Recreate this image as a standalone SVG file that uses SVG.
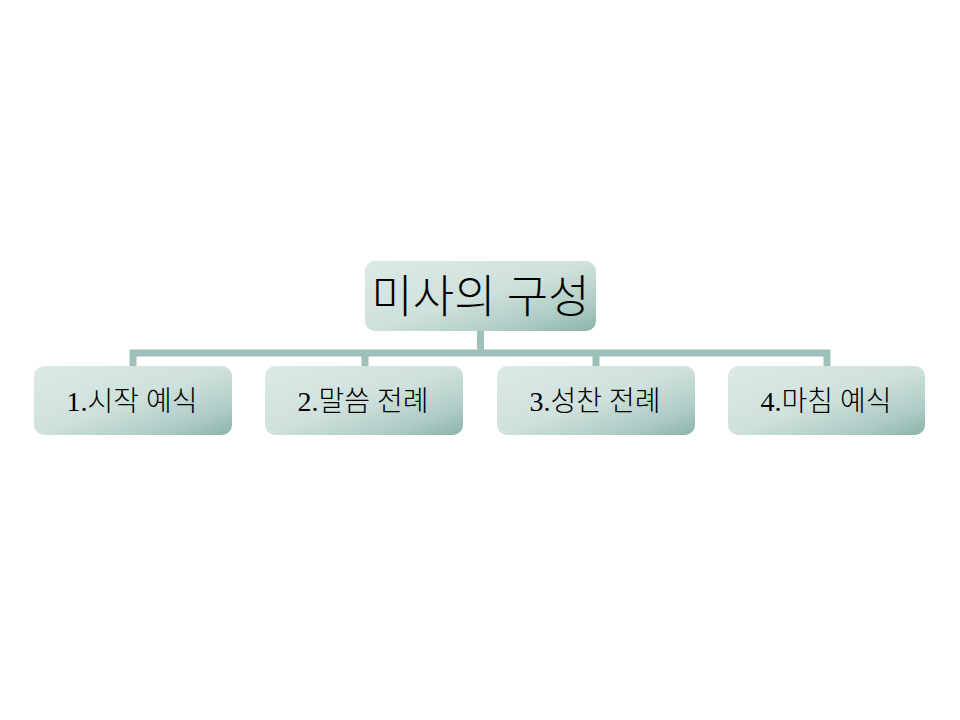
<svg xmlns="http://www.w3.org/2000/svg" width="960" height="720" viewBox="0 0 960 720">
<defs>
<linearGradient id="g" x1="0" y1="0" x2="1" y2="1">
<stop offset="0" stop-color="#dde9e6"/>
<stop offset="0.5" stop-color="#cfe1dc"/>
<stop offset="0.8" stop-color="#aecbc5"/>
<stop offset="1" stop-color="#8ab3ab"/>
</linearGradient>
<style>
.box{fill:url(#g);}
.conn{fill:none;stroke:#9dc1ba;stroke-width:7;stroke-linejoin:miter;}
.t{font-family:"Liberation Serif","Noto Sans CJK KR",serif;font-weight:300;fill:#000;text-anchor:middle;}
.c{font-size:28px;}
.r{font-size:45px;}
</style>
</defs>
<rect width="960" height="720" fill="#fff"/>
<g id="connectors">
<path class="conn" d="M480.5 330 V353 M133 366 V353 H827 V366 M365 353 V366 M596 353 V366"/>
</g>
<g id="root">
<rect class="box" x="365" y="261" width="231" height="70" rx="10"/>
<text class="t r" x="480.5" y="313">미사의 구성</text>
</g>
<g id="n1">
<rect class="box" x="34" y="366" width="198" height="69" rx="10"/>
<text class="t c" x="132" y="411">1.시작 예식</text>
</g>
<g id="n2">
<rect class="box" x="265" y="366" width="198" height="69" rx="10"/>
<text class="t c" x="363" y="411">2.말씀 전례</text>
</g>
<g id="n3">
<rect class="box" x="497" y="366" width="198" height="69" rx="10"/>
<text class="t c" x="595" y="411">3.성찬 전례</text>
</g>
<g id="n4">
<rect class="box" x="728" y="366" width="197" height="69" rx="10"/>
<text class="t c" x="826" y="411">4.마침 예식</text>
</g>
</svg>
